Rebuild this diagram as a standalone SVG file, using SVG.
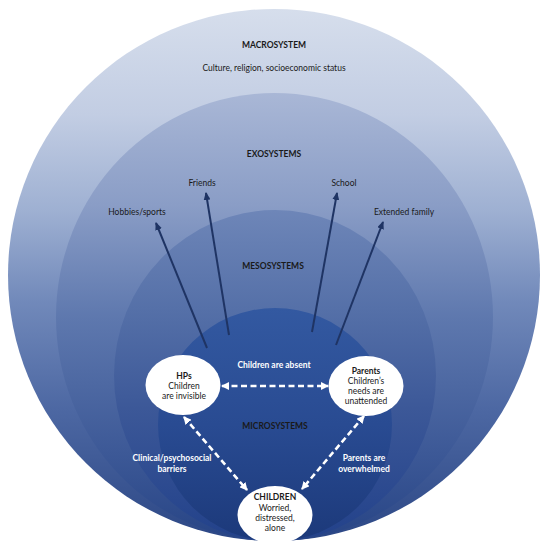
<svg xmlns="http://www.w3.org/2000/svg" width="550" height="549" viewBox="0 0 550 549">
<style>
.t{font-family:Lato,"Open Sans","Liberation Sans",sans-serif;font-size:8.5px;text-anchor:middle;dominant-baseline:central}
.dk{fill:#1a1a1a}
.b{font-weight:bold}
.w{fill:#ffffff}
.node{fill:#ffffff}
.arr{stroke:#1f3464;stroke-width:2;fill:none;marker-end:url(#ah)}
.dash{stroke:#ffffff;stroke-width:2.6;stroke-dasharray:6 3.5;fill:none;marker-start:url(#wh);marker-end:url(#wh)}
</style>
<defs>
<linearGradient id="gMacro" x1="0" y1="0" x2="0" y2="1">
<stop offset="0" stop-color="#d6deec"/>
<stop offset="0.2" stop-color="#c2cde3"/>
<stop offset="0.38" stop-color="#9eb0d2"/>
<stop offset="0.55" stop-color="#7189ba"/>
<stop offset="0.75" stop-color="#4d68a3"/>
<stop offset="1" stop-color="#2c4785"/>
</linearGradient>
<linearGradient id="gExo" x1="0" y1="0" x2="0" y2="1">
<stop offset="0" stop-color="#a9b7d6"/>
<stop offset="0.25" stop-color="#8a9dc6"/>
<stop offset="0.5" stop-color="#5e78ae"/>
<stop offset="0.8" stop-color="#3d5997"/>
<stop offset="1" stop-color="#274485"/>
</linearGradient>
<linearGradient id="gMeso" x1="0" y1="0" x2="0" y2="1">
<stop offset="0" stop-color="#6e86b8"/>
<stop offset="0.3" stop-color="#5570a8"/>
<stop offset="0.6" stop-color="#3c5898"/>
<stop offset="1" stop-color="#22418a"/>
</linearGradient>
<linearGradient id="gMicro" x1="0" y1="0" x2="0" y2="1">
<stop offset="0" stop-color="#3359a1"/>
<stop offset="0.5" stop-color="#294b92"/>
<stop offset="1" stop-color="#1c397a"/>
</linearGradient>
<marker id="ah" viewBox="0 0 8 7" refX="7" refY="3.5" markerWidth="8" markerHeight="7" markerUnits="userSpaceOnUse" orient="auto">
<path d="M0,0 L8,3.5 L0,7 z" fill="#1f3464"/>
</marker>
<marker id="wh" viewBox="0 0 8 8" refX="7" refY="4" markerWidth="8" markerHeight="8" markerUnits="userSpaceOnUse" orient="auto-start-reverse">
<path d="M0,0 L8,4 L0,8 z" fill="#ffffff"/>
</marker>
</defs>

<g id="layers">
<ellipse id="macrosystem" cx="274" cy="275" rx="266" ry="266" fill="url(#gMacro)"/>
<ellipse id="exosystems" cx="274.5" cy="317" rx="218.5" ry="224" fill="url(#gExo)"/>
<ellipse id="mesosystems" cx="275" cy="375.5" rx="161" ry="165.5" fill="url(#gMeso)"/>
<ellipse id="microsystems" cx="275" cy="424.5" rx="117" ry="116.5" fill="url(#gMicro)"/>
</g>

<g id="layer-labels">
<text class="t dk b" x="274" y="45">MACROSYSTEM</text>
<text class="t dk" x="274" y="68">Culture, religion, socioeconomic status</text>
<text class="t dk b" x="274" y="154">EXOSYSTEMS</text>
<text class="t dk b" x="273" y="266">MESOSYSTEMS</text>
<text class="t dk b" x="275" y="426">MICROSYSTEMS</text>
</g>

<g id="exo-hobbies"><text class="t dk" x="137" y="212">Hobbies/sports</text></g>
<g id="exo-friends"><text class="t dk" x="202" y="183">Friends</text></g>
<g id="exo-school"><text class="t dk" x="344" y="183">School</text></g>
<g id="exo-family"><text class="t dk" x="404" y="212">Extended family</text></g>

<g id="connectors">
<line class="arr" x1="207" y1="348" x2="156" y2="223"/>
<line class="arr" x1="229" y1="335" x2="206" y2="193"/>
<line class="arr" x1="312" y1="332" x2="337" y2="193"/>
<line class="arr" x1="336" y1="345" x2="383" y2="222"/>
<line class="dash" x1="222" y1="386" x2="328" y2="386"/>
<line class="dash" x1="184" y1="417" x2="247" y2="490"/>
<line class="dash" x1="364" y1="416" x2="302" y2="489"/>
</g>

<g id="edge-labels">
<text class="t w b" x="274" y="365">Children are absent</text>
<text class="t w b" x="172" y="458">Clinical/psychosocial</text>
<text class="t w b" x="172" y="469">barriers</text>
<text class="t w b" x="364" y="458">Parents are</text>
<text class="t w b" x="364" y="469">overwhelmed</text>
</g>

<g id="node-hps">
<ellipse class="node" cx="183" cy="385" rx="37.5" ry="30"/>
<text class="t dk b" x="184" y="376">HPs</text>
<text class="t dk" x="184" y="386">Children</text>
<text class="t dk" x="184" y="396">are invisible</text>
</g>

<g id="node-parents">
<ellipse class="node" cx="366" cy="386" rx="37.5" ry="30"/>
<text class="t dk b" x="366" y="371">Parents</text>
<text class="t dk" x="366" y="381">Children’s</text>
<text class="t dk" x="366" y="391">needs are</text>
<text class="t dk" x="366" y="401">unattended</text>
</g>

<g id="node-children">
<ellipse class="node" cx="275" cy="515" rx="37.5" ry="29"/>
<text class="t dk b" x="275" y="497">CHILDREN</text>
<text class="t dk" x="275" y="508">Worried,</text>
<text class="t dk" x="275" y="518">distressed,</text>
<text class="t dk" x="275" y="528">alone</text>
</g>
</svg>
